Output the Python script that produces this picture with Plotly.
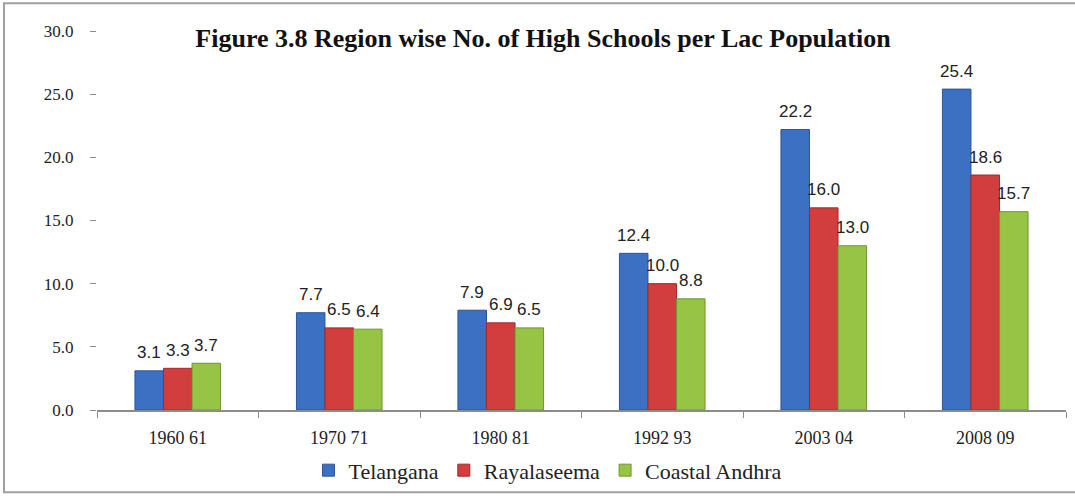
import plotly.graph_objects as go

categories = ["1960 61", "1970 71", "1980 81", "1992 93", "2003 04", "2008 09"]
telangana = [3.1, 7.7, 7.9, 12.4, 22.2, 25.4]
rayalaseema = [3.3, 6.5, 6.9, 10.0, 16.0, 18.6]
coastal = [3.7, 6.4, 6.5, 8.8, 13.0, 15.7]
y_ticks = [0, 5, 10, 15, 20, 25, 30]

series = [
    ("Telangana", telangana, "#3c70c2", "#2a5598"),
    ("Rayalaseema", rayalaseema, "#d23d3d", "#a02a2a"),
    ("Coastal Andhra", coastal, "#97c444", "#6f9630"),
]

W, H = 1075, 500
ml, mr, mt, mb = 97, 9, 31, 86
pw, ph = W - ml - mr, H - mt - mb
bargap = 0.47
bar_px = pw / len(categories) * (1 - bargap) / len(series)

def px_x(x):
    return (x - ml) / pw

def px_y(y):
    return (H - mb - y) / ph

fig = go.Figure()
annotations = []
for i, (name, vals, col, edge) in enumerate(series):
    fig.add_trace(go.Bar(
        x=categories, y=vals, name=name,
        marker=dict(color=col, line=dict(color=edge, width=1)),
        hoverinfo="x+y+name",
    ))
    for c, v in zip(categories, vals):
        annotations.append(dict(
            x=c, y=v, xref="x", yref="y", text=f"{v:.1f}",
            showarrow=False, xshift=(i - 1) * bar_px, yshift=18,
            yanchor="middle", xanchor="center",
            font=dict(family="Liberation Sans, Arial, sans-serif", size=17, color="#222222"),
        ))

fig.update_layout(
    width=W, height=H,
    margin=dict(l=ml, r=mr, t=mt, b=mb),
    paper_bgcolor="white", plot_bgcolor="white",
    barmode="group", bargap=bargap, bargroupgap=0,
    title=dict(
        text="<b>Figure 3.8 Region wise No. of High Schools per Lac Population</b>",
        font=dict(family="Liberation Serif, Times New Roman, serif", size=26, color="#111111"),
        x=543 / W, xanchor="center", y=1 - 38 / H, yanchor="middle",
    ),
    font=dict(family="Liberation Serif, Times New Roman, serif", color="#222222"),
    legend=dict(
        orientation="h", x=px_x(548), xanchor="center",
        y=px_y(475), yanchor="middle",
        font=dict(family="Liberation Serif, Times New Roman, serif", size=22, color="#222222"),
        itemwidth=30, tracegroupgap=0,
    ),
    xaxis=dict(
        type="category", showline=True, linecolor="#8c8c8c", linewidth=1.5,
        ticks="outside", ticklen=6, tickcolor="#8c8c8c", tickson="boundaries",
        showgrid=False, ticklabelstandoff=11,
        tickfont=dict(family="Liberation Serif, Times New Roman, serif", size=18, color="#222222"),
    ),
    yaxis=dict(
        range=[0, 30], tickvals=y_ticks, tickformat=".1f",
        showgrid=False, showline=False, zeroline=False,
        ticks="outside", ticklen=6, tickcolor="#8c8c8c",
        ticklabelstandoff=13,
        tickfont=dict(family="Liberation Serif, Times New Roman, serif", size=17, color="#222222"),
    ),
    annotations=annotations,
    shapes=[dict(
        type="rect", xref="paper", yref="paper",
        x0=px_x(4), x1=px_x(1080), y0=px_y(497), y1=px_y(3),
        line=dict(color="#a0a0a0", width=2), fillcolor="rgba(0,0,0,0)", layer="below",
    )],
)

fig.write_html("out.html", config={"displayModeBar": False},
               post_script="document.body.style.margin='0';")
